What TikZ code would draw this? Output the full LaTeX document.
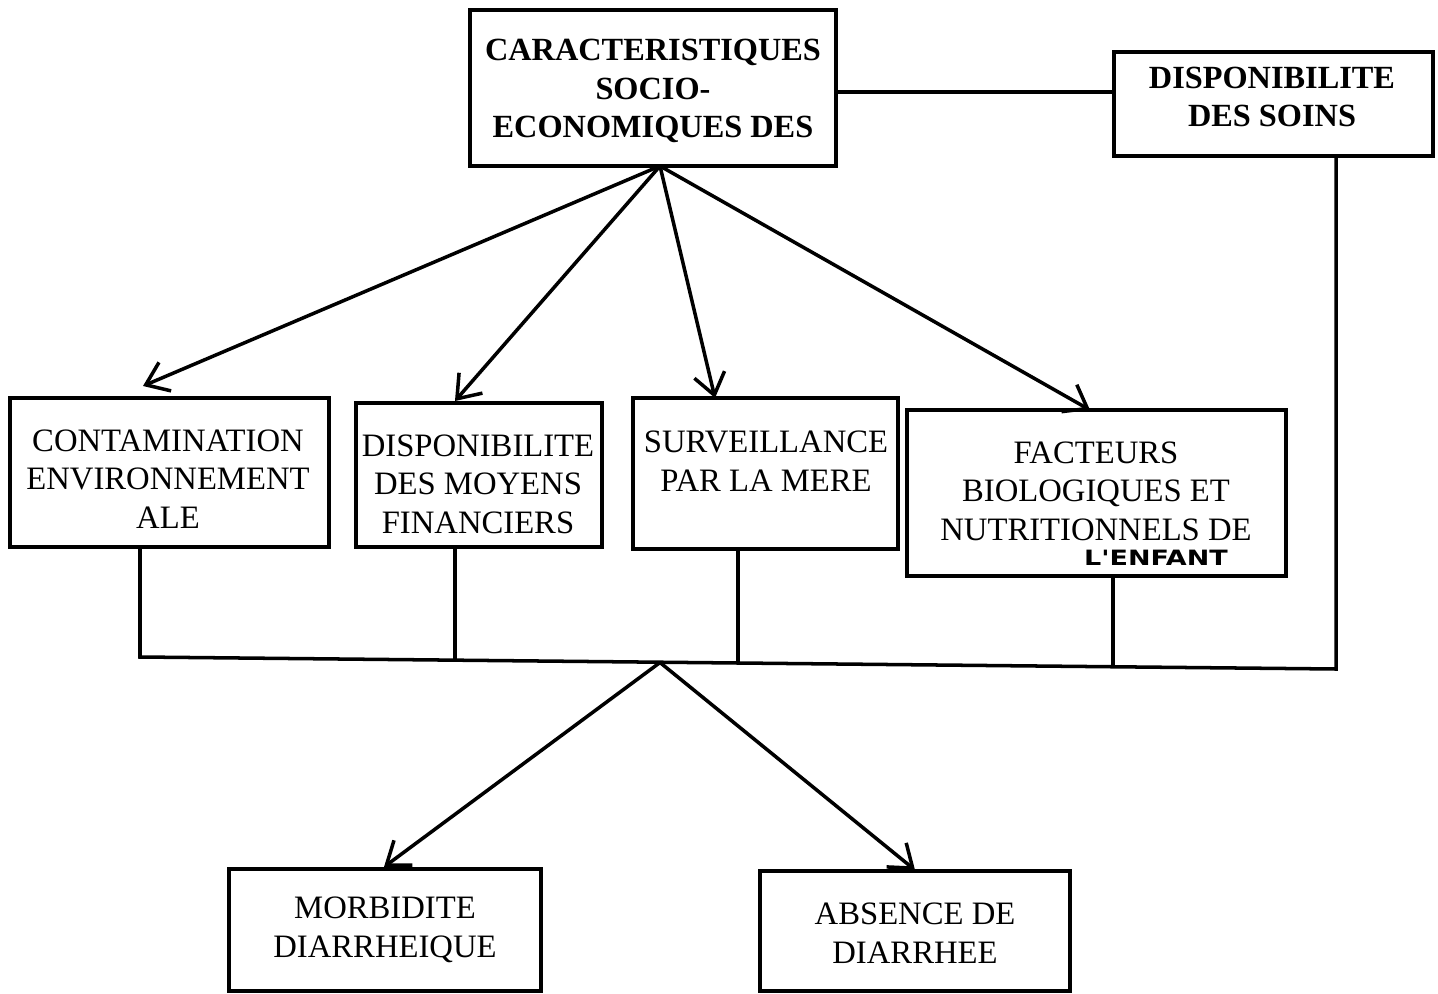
\documentclass[tikz,border=0pt]{standalone}
\usepackage{fontspec}
\setmainfont{Liberation Serif}
\newfontfamily\handfont{DejaVu Sans}
\usetikzlibrary{arrows.meta}
\begin{document}
\begin{tikzpicture}[x=0.02cm,y=-0.02cm,
  box/.style={draw,line width=2pt,rectangle,inner sep=0pt},
  txt/.style={align=center,font=\fontsize{18.6}{22}\selectfont,inner sep=0pt},
  btxt/.style={align=center,font=\fontsize{18.4}{22}\selectfont\bfseries,inner sep=0pt},
  conn/.style={line width=2pt},
  arr/.style={line width=2pt,-{Straight Barb[length=0.42cm,width=0.62cm,line width=2pt]}}]
\useasboundingbox (0,0) rectangle (1438,994);
% boxes
\node[box,minimum width=7.32cm,minimum height=3.12cm] (top) at (653,88) {};
\node[box,minimum width=6.38cm,minimum height=2.08cm] (soins) at (1273.5,104) {};
\node[box,minimum width=6.38cm,minimum height=2.98cm] (cont) at (169.5,472.5) {};
\node[box,minimum width=4.92cm,minimum height=2.88cm] (moy) at (479,475) {};
\node[box,minimum width=5.30cm,minimum height=3.02cm] (surv) at (765.5,473.5) {};
\node[box,minimum width=7.58cm,minimum height=3.32cm] (fact) at (1096.5,493) {};
\node[box,minimum width=6.24cm,minimum height=2.44cm] (morb) at (385,930) {};
\node[box,minimum width=6.20cm,minimum height=2.40cm] (abs) at (915,931) {};
% texts
\node[btxt] (ttop) at (653,91) {CARACTERISTIQUES\\SOCIO-\\ECONOMIQUES DES};
\node[btxt] (tsoins) at (1272,97) {DISPONIBILITE\\DES SOINS};
\node[txt] (tcont) at (168,479) {CONTAMINATION\\ENVIRONNEMENT\\ALE};
\node[txt] (tmoy) at (478,484) {DISPONIBILITE\\DES MOYENS\\FINANCIERS};
\node[txt] (tsurv) at (766,461) {SURVEILLANCE\\PAR LA MERE};
\node[txt] (tfact) at (1096,491) {FACTEURS\\BIOLOGIQUES ET\\NUTRITIONNELS DE};
\node[inner sep=0pt,font=\handfont\bfseries\fontsize{12}{14}\selectfont,xscale=1.28] (tenf) at (1156,558) {L'ENFANT};
\node[txt] (tmorb) at (385,930) {MORBIDITE\\DIARRHEIQUE};
\node[txt] (tabs) at (915,933) {ABSENCE DE\\DIARRHEE};
% connectors top
\draw[conn] (top.east |- 0,92) -- (soins.west |- 0,92);
\coordinate (hub) at (660,166);
\coordinate (ecnt) at (143,386);
\coordinate (emoy) at (455,401);
\coordinate (esur) at (715,398);
\coordinate (efac) at (1090,410);
\draw[arr] (hub) -- (ecnt);
\draw[arr] (hub) -- (emoy);
\draw[arr] (hub) -- (esur);
\draw[arr] (hub) -- (efac);
% collecting line
\coordinate (hl) at (140,657);
\coordinate (hr) at (1336,669);
\coordinate (bmoy) at (455,660.2);
\coordinate (bsur) at (738,663);
\coordinate (bfac) at (1113,666.8);
\coordinate (apex) at (660,662.5);
\draw[conn] (cont.south -| hl) -- (hl) -- (hr) -- (soins.south -| hr);
\draw[conn] (moy.south -| bmoy) -- (bmoy);
\draw[conn] (surv.south -| bsur) -- (bsur);
\draw[conn] (fact.south -| bfac) -- (bfac);
\coordinate (emorb) at (384,867);
\coordinate (eabs) at (915,870);
\draw[arr] (apex) -- (emorb);
\draw[arr] (apex) -- (eabs);
\end{tikzpicture}
\end{document}
